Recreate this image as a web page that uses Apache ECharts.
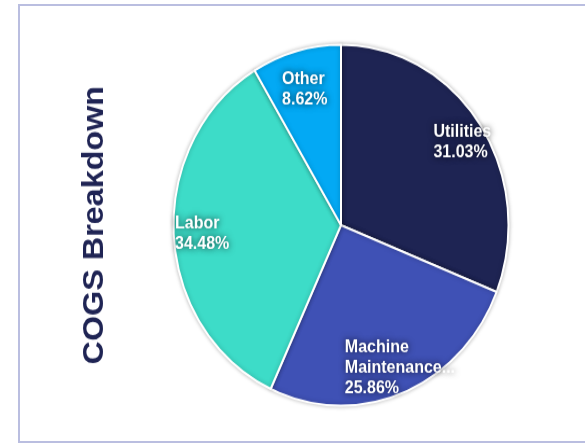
<!DOCTYPE html>
<html>
<head>
<meta charset="utf-8">
<script src="https://cdn.jsdelivr.net/npm/echarts@6/dist/echarts.min.js"></script>
<style>
*{
  margin: 0;
  padding: 0;
}
body{
  width: 585px;
  height: 446px;
  overflow: hidden;
  background: #fff;
  position: relative;
}
.frame{
  position: absolute;
  left: 18px;
  top: 4px;
  width: 620px;
  height: 435px;
  border: 2px solid #babee0;
}
#cogsChart{
  position: absolute;
  left: 0;
  top: 0;
  width: 585px;
  height: 414px;
  transform: scaleY(1.0773);
  transform-origin: 0 0;
}
</style>
</head>
<body>
<div class="frame"></div>
<div id="cogsChart"></div>
<script>
// COGS breakdown, clockwise from 12 o'clock
var categories = ['Utilities', 'Machine Maintenance', 'Labor', 'Other']
var values = [18, 15, 20, 5]
// label text as shown on the slices (long name is cut off in the original)
var labelNames = ['Utilities', 'Machine\nMaintenance...', 'Labor', 'Other']
var colors = ['#1e2453', '#3f51b5', '#3ddcc8', '#03a9f4']
// nudge of each label block [top, right, bottom, left] padding
var labelPads = [[6, 0, 0, 6], [0, 0, 0, 12], [0, 0, 0, 8], [24, 0, 0, 4]]

var total = values.reduce(function (a, b) { return a + b }, 0)
var pieData = categories.map(function (name, i) {
  return { name: name, value: values[i], itemStyle: { color: colors[i] } }
})

var chart = echarts.init(document.getElementById('cogsChart'))
var option = {
  animation: false,
  graphic: [
    {
      type: 'text',
      x: 95,
      y: 209,
      rotation: Math.PI / 2,
      style: {
        text: 'COGS Breakdown',
        font: 'bold 30px "Liberation Sans", Arial, sans-serif',
        fill: '#1f2454',
        align: 'center',
        verticalAlign: 'middle'
      }
    }
  ],
  series: [
    {
      type: 'pie',
      center: [341, 209],
      radius: [0, 167.5],
      startAngle: 90,
      clockwise: true,
      silent: true,
      data: pieData,
      label: { show: false },
      labelLine: { show: false },
      itemStyle: {
        borderColor: '#fff',
        borderWidth: 2,
        shadowBlur: 4,
        shadowColor: 'rgba(0, 0, 0, 0.25)'
      }
    },
    {
      // transparent ring only used to place the labels near the rim
      type: 'pie',
      center: [341, 209],
      radius: [110, 170],
      startAngle: 90,
      clockwise: true,
      silent: true,
      data: pieData.map(function (d, i) {
        return {
          name: d.name,
          value: d.value,
          itemStyle: { color: 'transparent' },
          label: { padding: labelPads[i] }
        }
      }),
      itemStyle: { borderWidth: 0 },
      labelLine: { show: false },
      label: {
        show: true,
        position: 'inside',
        formatter: function (p) {
          var lines = labelNames[p.dataIndex].split('\n')
          lines.push((values[p.dataIndex] / total * 100).toFixed(2) + '%')
          return lines.map(function (l) { return '{n|' + l + '}' }).join('\n')
        },
        rich: {
          n: {
            align: 'left',
            color: '#fff',
            fontSize: 16,
            fontWeight: 'bold',
            fontFamily: '"Liberation Sans", Arial, sans-serif',
            lineHeight: 19,
            textShadowColor: 'rgba(0, 0, 0, 0.75)',
            textShadowBlur: 6
          }
        }
      }
    }
  ]
}
chart.setOption(option)
</script>
</body>
</html>
